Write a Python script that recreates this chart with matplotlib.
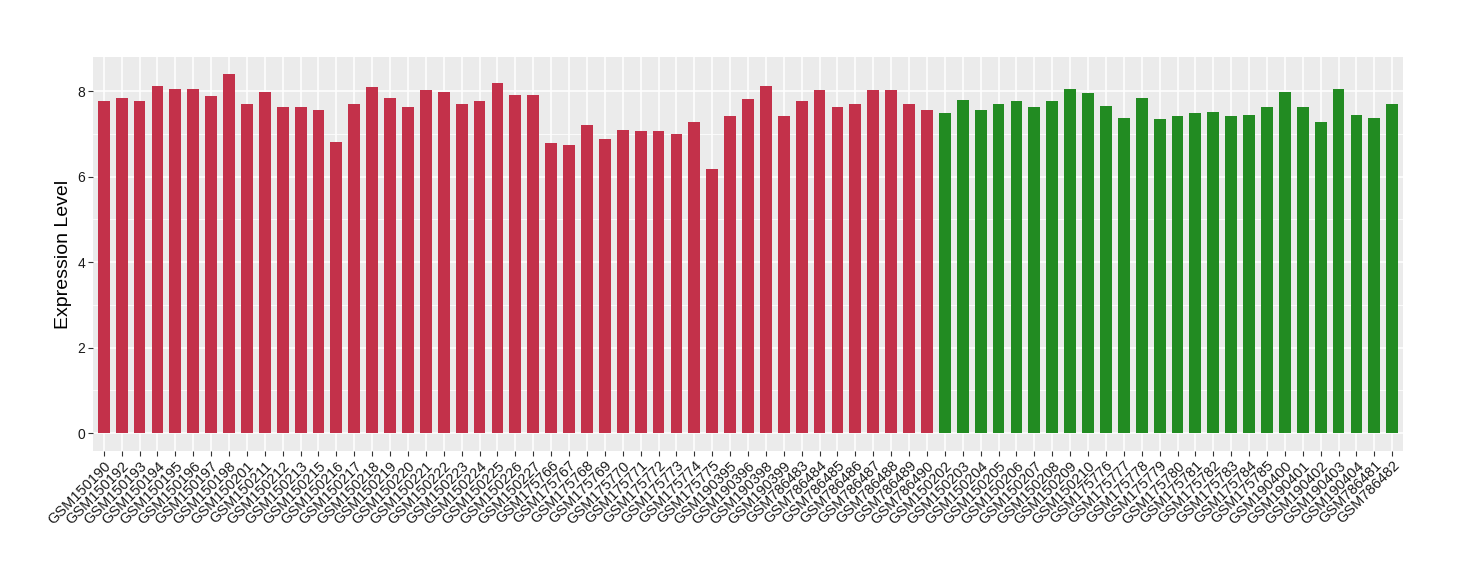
import matplotlib
matplotlib.use("Agg")
import matplotlib.pyplot as plt
from matplotlib.ticker import MultipleLocator

plt.rcParams['font.family'] = ['Liberation Sans', 'DejaVu Sans']

red_samples = ["GSM150190", "GSM150192", "GSM150193", "GSM150194", "GSM150195", "GSM150196",
               "GSM150197", "GSM150198", "GSM150201", "GSM150211", "GSM150212", "GSM150213",
               "GSM150215", "GSM150216", "GSM150217", "GSM150218", "GSM150219", "GSM150220",
               "GSM150221", "GSM150222", "GSM150223", "GSM150224", "GSM150225", "GSM150226",
               "GSM150227", "GSM175766", "GSM175767", "GSM175768", "GSM175769", "GSM175770",
               "GSM175771", "GSM175772", "GSM175773", "GSM175774", "GSM175775", "GSM190395",
               "GSM190396", "GSM190398", "GSM190399", "GSM786483", "GSM786484", "GSM786485",
               "GSM786486", "GSM786487", "GSM786488", "GSM786489", "GSM786490"]
red_values = [7.76, 7.85, 7.76, 8.13, 8.06, 8.04, 7.88, 8.40, 7.69, 7.97, 7.62, 7.64,
              7.55, 6.82, 7.69, 8.09, 7.85, 7.62, 8.02, 7.97, 7.69, 7.76, 8.20, 7.90,
              7.92, 6.78, 6.73, 7.20, 6.87, 7.10, 7.06, 7.08, 6.99, 7.27, 6.18, 7.41,
              7.81, 8.13, 7.41, 7.76, 8.02, 7.64, 7.71, 8.02, 8.02, 7.69, 7.57]

green_samples = ["GSM150202", "GSM150203", "GSM150204", "GSM150205", "GSM150206", "GSM150207",
                 "GSM150208", "GSM150209", "GSM150210", "GSM175776", "GSM175777", "GSM175778",
                 "GSM175779", "GSM175780", "GSM175781", "GSM175782", "GSM175783", "GSM175784",
                 "GSM175785", "GSM190400", "GSM190401", "GSM190402", "GSM190403", "GSM190404",
                 "GSM786481", "GSM786482"]
green_values = [7.50, 7.80, 7.55, 7.71, 7.76, 7.62, 7.76, 8.04, 7.95, 7.66, 7.38, 7.83,
                7.36, 7.41, 7.50, 7.52, 7.41, 7.45, 7.62, 7.99, 7.62, 7.29, 8.06, 7.45,
                7.38, 7.71]

red_color = "#C3314A"
green_color = "#228B22"

samples = red_samples + green_samples
values = red_values + green_values
colors = [red_color] * len(red_samples) + [green_color] * len(green_samples)

fig = plt.figure(figsize=(14.6, 5.8), dpi=100)
ax = fig.add_axes([93 / 1460, 1 - 451 / 580, (1403 - 93) / 1460, (451 - 57) / 580])

x = list(range(len(samples)))
ax.set_facecolor("#EBEBEB")
ax.yaxis.set_major_locator(MultipleLocator(2))
ax.yaxis.set_minor_locator(MultipleLocator(1))
ax.grid(which="major", axis="y", color="white", linewidth=1.1)
ax.grid(which="minor", axis="y", color="white", linewidth=0.55)
ax.grid(which="major", axis="x", color="white", linewidth=1.1)
ax.set_axisbelow(True)

ax.bar(x, values, width=0.66, color=colors, zorder=2)

ax.set_xlim(-0.6, len(samples) - 0.4)
ax.set_ylim(-0.42, 8.8)
ax.set_xticks(x)
ax.set_xticklabels(samples, rotation=45, ha="right", rotation_mode="anchor", fontsize=10.5)
ax.tick_params(axis="y", which="major", labelsize=10, length=3.5, color="#333333",
               labelcolor="#1a1a1a", pad=2)
ax.tick_params(axis="y", which="minor", length=0)
ax.tick_params(axis="x", length=3.5, color="#333333", labelcolor="#1a1a1a", pad=2)
for s in ax.spines.values():
    s.set_visible(False)

ax.set_ylabel("Expression Level", fontsize=14, labelpad=4)

fig.savefig("out.png", dpi=100)
